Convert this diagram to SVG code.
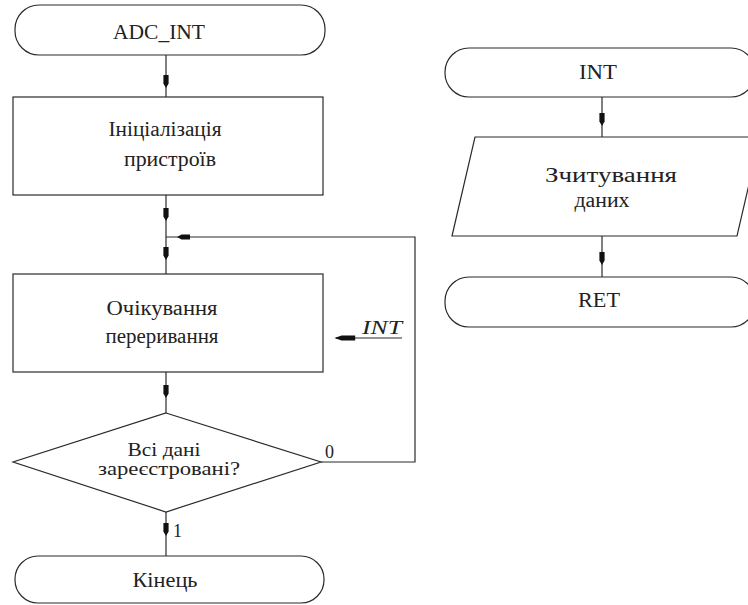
<svg xmlns="http://www.w3.org/2000/svg" xmlns:xlink="http://www.w3.org/1999/xlink" width="748" height="605" viewBox="0 0 748 605">
<style>
.s{fill:#fff;stroke:#2a2a2a;stroke-width:1.2}
.c{fill:none;stroke:#2a2a2a;stroke-width:1.2}
text{font-family:"Liberation Serif","Times New Roman",serif;fill:#222}
.t{font-size:20px;text-anchor:middle}
.d{font-size:18px;text-anchor:middle}
.l{font-size:18px}
</style>
<defs>
<path id="ah" d="M-2.6,-7 L2.6,-7 L2.6,1.5 L0,6 L-2.6,1.5 Z" fill="#111"/>
</defs>
<rect width="748" height="605" fill="#fff"/>
<g id="connectors">
<line class="c" x1="166" y1="55" x2="166" y2="97"/>
<line class="c" x1="166" y1="195" x2="166" y2="274"/>
<line class="c" x1="166" y1="372" x2="166" y2="413"/>
<line class="c" x1="166" y1="512" x2="166" y2="556"/>
<polyline class="c" points="321,462 415,462 415,237 166,237"/>
<line class="c" x1="336" y1="338" x2="402" y2="338"/>
<line class="c" x1="602" y1="97" x2="602" y2="137"/>
<line class="c" x1="602" y1="236" x2="602" y2="277"/>
<use xlink:href="#ah" transform="translate(166,82)"/>
<use xlink:href="#ah" transform="translate(166,215)"/>
<use xlink:href="#ah" transform="translate(166,254)"/>
<use xlink:href="#ah" transform="translate(166,392)"/>
<use xlink:href="#ah" transform="translate(166,530)"/>
<use xlink:href="#ah" transform="translate(183,237) rotate(90)"/>
<use xlink:href="#ah" transform="translate(344,338) rotate(90) scale(1,1.6)"/>
<use xlink:href="#ah" transform="translate(602,120)"/>
<use xlink:href="#ah" transform="translate(602,259)"/>
<text class="l" x="325" y="458">0</text>
<text class="l" x="173" y="537">1</text>
<text class="l" x="362" y="334" font-style="italic" textLength="40" lengthAdjust="spacingAndGlyphs">INT</text>
</g>
<g id="adc_int">
<rect class="s" x="15" y="5" width="310" height="50" rx="24" ry="24"/>
<text class="t" x="159" y="39" textLength="92" lengthAdjust="spacingAndGlyphs">ADC_INT</text>
</g>
<g id="init">
<rect class="s" x="13" y="97" width="310" height="98"/>
<text class="t" x="165" y="136" textLength="113" lengthAdjust="spacingAndGlyphs">Ініціалізація</text>
<text class="t" x="170" y="166" textLength="92" lengthAdjust="spacingAndGlyphs">пристроїв</text>
</g>
<g id="wait">
<rect class="s" x="13" y="274" width="310" height="98"/>
<text class="t" x="162" y="315" textLength="111" lengthAdjust="spacingAndGlyphs">Очікування</text>
<text class="t" x="162" y="343" textLength="113" lengthAdjust="spacingAndGlyphs">переривання</text>
</g>
<g id="decision">
<polygon class="s" points="166,413 321,462 166,512 13,462"/>
<text class="d" x="164" y="456" textLength="73" lengthAdjust="spacingAndGlyphs">Всі дані</text>
<text class="d" x="169" y="475" textLength="142" lengthAdjust="spacingAndGlyphs">зареєстровані?</text>
</g>
<g id="end">
<rect class="s" x="15" y="556" width="309" height="47" rx="23" ry="23"/>
<text class="t" x="165" y="587" textLength="65" lengthAdjust="spacingAndGlyphs">Кінець</text>
</g>
<g id="int">
<rect class="s" x="445" y="48" width="310" height="49" rx="24" ry="24"/>
<text class="t" x="598" y="79" textLength="38" lengthAdjust="spacingAndGlyphs">INT</text>
</g>
<g id="read">
<polygon class="s" points="475,137 760,137 737,236 452,236"/>
<text class="t" x="611" y="182" textLength="132" lengthAdjust="spacingAndGlyphs">Зчитування</text>
<text class="t" x="602" y="207" textLength="55" lengthAdjust="spacingAndGlyphs">даних</text>
</g>
<g id="ret">
<rect class="s" x="445" y="277" width="310" height="50" rx="24" ry="24"/>
<text class="t" x="599" y="307" textLength="42" lengthAdjust="spacingAndGlyphs">RET</text>
</g>
</svg>
